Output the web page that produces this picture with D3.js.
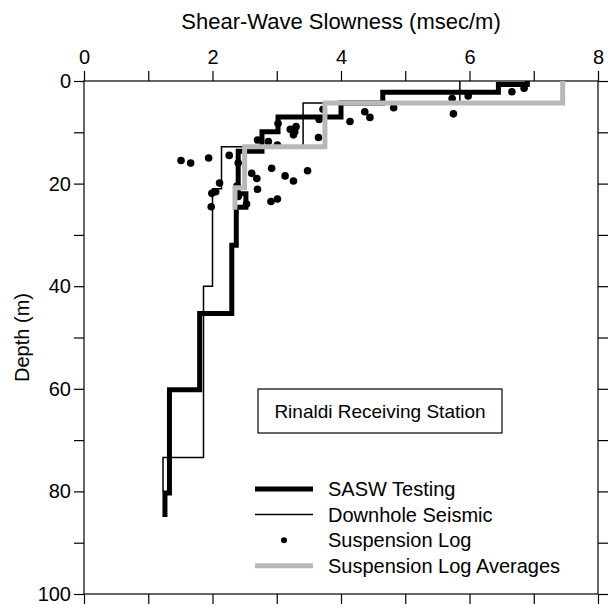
<!DOCTYPE html>
<html>
<head>
<meta charset="utf-8">
<script src="https://cdn.jsdelivr.net/npm/d3@7"></script>
<style>
  body { margin: 0; background: #fff; }
  svg { display: block; font-family: "Liberation Sans", Arial, Helvetica, sans-serif; }
</style>
</head>
<body>
<svg id="chart" width="610" height="608"></svg>
<script>
// ---- data ----
const xTicks = [0, 1, 2, 3, 4, 5, 6, 7, 8];
const yTicks = [0, 10, 20, 30, 40, 50, 60, 70, 80, 90, 100];

// SASW testing: layer boundaries (m) and slowness per layer (msec/m)
const saswDepth = [0, 0.7, 2.2, 4.3, 7.0, 9.9, 13.7, 22.0, 24.6, 32.0, 45.3, 60.2, 80.3, 85.0];
const saswSlowness = [6.9, 6.45, 4.65, 4.0, 3.02, 2.77, 2.4, 2.52, 2.37, 2.3, 1.8, 1.33, 1.26];

// downhole seismic
const downholeDepth = [0, 4.3, 12.8, 21.0, 40.0, 73.4, 80.0];
const downholeSlowness = [5.85, 3.41, 2.14, 2.0, 1.86, 1.23];

// suspension log averages
const avgDepth = [0, 4.3, 12.8, 20.8, 25.1];
const avgSlowness = [7.45, 3.75, 2.5, 2.35];

// suspension log points
const logSlowness = [6.66, 6.85, 5.98, 5.75, 5.73, 4.82, 4.37, 4.45, 4.14, 3.72,
  3.65, 3.66, 3.21, 3.30, 3.28, 3.26, 3.02, 2.70, 2.87, 3.01,
  2.26, 1.94, 1.51, 1.66, 2.40, 2.92, 3.48, 2.61, 2.69, 3.13,
  3.26, 2.11, 2.38, 2.70, 1.99, 2.05, 1.98, 2.91, 3.01, 2.53, 2.40];
const logDepth = [2.1, 1.4, 2.9, 6.4, 3.4, 5.2, 6.0, 7.1, 7.9, 5.5,
  11.0, 7.5, 9.4, 8.9, 9.9, 10.5, 8.3, 11.5, 11.8, 12.5,
  14.5, 15.0, 15.5, 16.0, 16.0, 17.0, 17.5, 18.0, 19.0, 18.5,
  19.5, 19.9, 20.5, 21.1, 21.9, 21.6, 24.5, 23.5, 23.0, 24.0, 22.5];

const legendNames = ["SASW Testing", "Downhole Seismic", "Suspension Log", "Suspension Log Averages"];

// ---- layout ----
const plotLeft = 84, plotRight = 598, plotTop = 81, plotBottom = 594;
const font = 20;

const svg = d3.select("#chart");
const x = d3.scaleLinear().domain([0, 8]).range([plotLeft, plotRight]);
const y = d3.scaleLinear().domain([0, 100]).range([plotTop, plotBottom]);

// turn layer boundaries + values into step points
function steps(depths, values) {
    let pts = [];
    values.forEach((v, i) => {
        pts.push([v, depths[i]]);
        pts.push([v, depths[i + 1]]);
    });
    return pts;
}

const line = d3.line().x(d => x(d[0])).y(d => y(d[1]));

// axes
function styleAxis(g) {
    g.select(".domain").remove();
    g.selectAll("line").attr("stroke", "#000").attr("stroke-width", 1.2);
    g.selectAll("text").attr("font-size", font).attr("fill", "#000")
        .style("font-family", "'Liberation Sans', Arial, sans-serif");
}

svg.append("g")
    .attr("transform", "translate(0," + plotTop + ")")
    .call(d3.axisTop(x).tickValues(xTicks).tickSize(10).tickPadding(7)
        .tickFormat(d => d % 2 === 0 ? d : ""))
    .call(styleAxis);

svg.append("g")
    .attr("transform", "translate(0," + plotBottom + ")")
    .call(d3.axisBottom(x).tickValues(xTicks).tickSize(10).tickFormat(""))
    .call(styleAxis);

svg.append("g")
    .attr("transform", "translate(" + plotLeft + ",0)")
    .call(d3.axisLeft(y).tickValues(yTicks).tickSize(10).tickPadding(3)
        .tickFormat(d => d % 20 === 0 ? d : ""))
    .call(styleAxis);

svg.append("g")
    .attr("transform", "translate(" + plotRight + ",0)")
    .call(d3.axisRight(y).tickValues(yTicks).tickSize(10).tickFormat(""))
    .call(styleAxis);

// frame
svg.append("rect")
    .attr("x", plotLeft).attr("y", plotTop)
    .attr("width", plotRight - plotLeft).attr("height", plotBottom - plotTop)
    .attr("fill", "none").attr("stroke", "#000").attr("stroke-width", 1.2);

// axis titles
svg.append("text")
    .attr("x", (plotLeft + plotRight) / 2).attr("y", 29)
    .attr("text-anchor", "middle").attr("font-size", 22)
    .text("Shear-Wave Slowness (msec/m)");

svg.append("text")
    .attr("transform", "translate(29," + (plotTop + plotBottom) / 2 + ") rotate(-90)")
    .attr("text-anchor", "middle").attr("font-size", font)
    .text("Depth (m)");

// profiles
svg.append("path")
    .attr("d", line(steps(downholeDepth, downholeSlowness)))
    .attr("fill", "none").attr("stroke", "#000").attr("stroke-width", 1.5);

svg.append("path")
    .attr("d", line(steps(saswDepth, saswSlowness)))
    .attr("fill", "none").attr("stroke", "#000").attr("stroke-width", 5);

svg.append("g").selectAll("circle")
    .data(logSlowness)
    .join("circle")
    .attr("cx", d => x(d))
    .attr("cy", (d, i) => y(logDepth[i]))
    .attr("r", 3.8)
    .attr("fill", "#000");

svg.append("path")
    .attr("d", line(steps(avgDepth, avgSlowness)))
    .attr("fill", "none").attr("stroke", "#b8b8b8").attr("stroke-width", 5);

// station label box
svg.append("rect")
    .attr("x", 258).attr("y", 389).attr("width", 244).attr("height", 44)
    .attr("fill", "#fff").attr("stroke", "#000").attr("stroke-width", 1.2);
svg.append("text")
    .attr("x", 380).attr("y", 411).attr("dy", "0.35em")
    .attr("text-anchor", "middle").attr("font-size", 19)
    .text("Rinaldi Receiving Station");

// legend
const legend = svg.append("g");
const rowY = i => 489 + i * 25.6;
legendNames.forEach((name, i) => {
    let ly = rowY(i);
    if (i === 2) {
        legend.append("circle").attr("cx", 284).attr("cy", ly).attr("r", 3).attr("fill", "#000");
    } else {
        legend.append("line")
            .attr("x1", 255).attr("x2", 313).attr("y1", ly).attr("y2", ly)
            .attr("stroke", i === 3 ? "#b8b8b8" : "#000")
            .attr("stroke-width", i === 1 ? 1.5 : 5);
    }
    legend.append("text")
        .attr("x", 328).attr("y", ly).attr("dy", "0.35em")
        .attr("font-size", 20)
        .text(name);
});
</script>
</body>
</html>
